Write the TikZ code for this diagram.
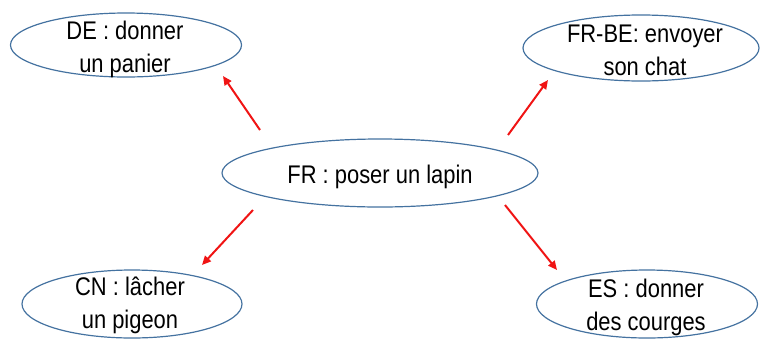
\documentclass[tikz,border=0pt]{standalone}
\usepackage{fontspec}
\setmainfont{Liberation Sans}[FakeStretch=0.86]
\usetikzlibrary{arrows.meta,shapes.geometric}
\definecolor{ellblue}{RGB}{68,114,160}
\definecolor{arrred}{RGB}{240,20,20}
\tikzset{
  bubble/.style={draw=ellblue, line width=1.2pt, ellipse, inner sep=0pt},
  lbl/.style={anchor=base, align=center, inner sep=0pt, font=\fontsize{25.5}{33}\selectfont},
  arr/.style={draw=arrred, line width=2pt, -{Triangle[length=9pt,width=8pt]}}
}
\begin{document}
\begin{tikzpicture}[x=1pt,y=-1pt]
\useasboundingbox (0,0) rectangle (760,338);
% ellipses
\node[bubble, minimum width=231pt, minimum height=64pt] (de) at (126,45) {};
\node[bubble, minimum width=236pt, minimum height=66pt] (frbe) at (641,48) {};
\node[bubble, minimum width=316pt, minimum height=68pt] (fr) at (380,173) {};
\node[bubble, minimum width=220pt, minimum height=68pt] (cn) at (132,304) {};
\node[bubble, minimum width=221pt, minimum height=68pt] (es) at (647,304) {};
% texts (anchor = baseline of last line)
\node[lbl] (tde) at (125,72) {DE : donner\\un panier};
\node[lbl] (tfrbe) at (645,75) {FR-BE: envoyer\\son chat};
\node[lbl] (tfr) at (380,183) {FR : poser un lapin};
\node[lbl] (tcn) at (130,328) {CN : lâcher\\un pigeon};
\node[lbl] (tes) at (646,330) {ES : donner\\des courges};
% arrow ends
\coordinate (a1s) at (260,130); \coordinate (a1e) at (223,76);
\coordinate (a2s) at (508,135); \coordinate (a2e) at (548,80);
\coordinate (a3s) at (253,210); \coordinate (a3e) at (202,265);
\coordinate (a4s) at (505,205); \coordinate (a4e) at (557,270);
\draw[arr] (a1s) -- (a1e);
\draw[arr] (a2s) -- (a2e);
\draw[arr] (a3s) -- (a3e);
\draw[arr] (a4s) -- (a4e);
\end{tikzpicture}
\end{document}
